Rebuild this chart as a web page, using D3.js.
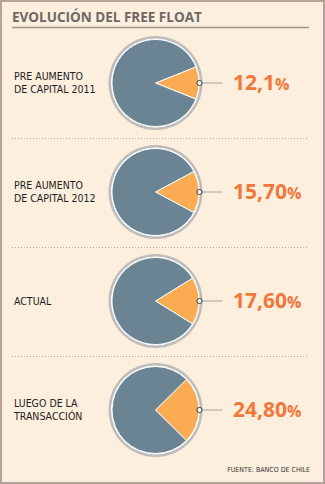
<!DOCTYPE html>
<html><head><meta charset="utf-8">
<script src="https://cdn.jsdelivr.net/npm/d3@7"></script>
<style>html,body{margin:0;padding:0;background:#fcefdd}svg{display:block}</style>
</head><body>
<script>
const categories = [["PRE AUMENTO","DE CAPITAL 2011"],["PRE AUMENTO","DE CAPITAL 2012"],["ACTUAL"],["LUEGO DE LA","TRANSACCIÓN"]];
const values = [12.1, 15.7, 17.6, 24.8];
const valueLabels = ["12,1", "15,70", "17,60", "24,80"];
const title = "EVOLUCIÓN DEL FREE FLOAT";
const source = "FUENTE: BANCO DE CHILE";

const W = 325, H = 484;
const svg = d3.select("body").append("svg").attr("width", W).attr("height", H);
svg.append("rect").attr("x",1).attr("y",1).attr("width",W-2).attr("height",H-2)
  .attr("fill","#fcefdd").attr("stroke","#b6a298").attr("stroke-width",2);

svg.append("text").attr("x",12).attr("y",22).text(title)
  .attr("font-family","'Open Sans', sans-serif").attr("font-weight","bold")
  .attr("font-size",13.5).attr("fill","#6d6864");
svg.append("line").attr("x1",12).attr("x2",309).attr("y1",27.5).attr("y2",27.5)
  .attr("stroke","#9c948c").attr("stroke-width",1.5);

const y = d3.scalePoint().domain(d3.range(values.length)).range([83, 410]);
const cx = 155.5;
const arc = d3.arc().innerRadius(0).outerRadius(43.5);

values.forEach((v, i) => {
  const g = svg.append("g").attr("transform", `translate(${cx},${y(i)})`);
  g.append("circle").attr("r",47).attr("fill","#bfbdbb");
  g.append("circle").attr("r",44.5).attr("fill","#ffffff");
  const half = v/100*Math.PI;
  const p = d3.pie().sort(null).value(d => d)
     .startAngle(Math.PI/2 - half).endAngle(Math.PI/2 - half + 2*Math.PI)([v, 100 - v]);
  g.selectAll("path").data(p).join("path").attr("d", arc)
    .attr("fill", (d,j) => j === 0 ? "#fbab52" : "#6a8494")
    .attr("stroke","#ffffff").attr("stroke-width",1);
  g.append("line").attr("x1",46).attr("x2",67).attr("y1",0).attr("y2",0)
    .attr("stroke","#a8a4a0").attr("stroke-width",1);
  g.append("circle").attr("cx",44).attr("cy",0).attr("r",2.6)
    .attr("fill","#fff").attr("stroke","#333").attr("stroke-width",1);

  const t = svg.append("text").attr("x",233).attr("y",y(i)+7)
    .attr("font-family","'Open Sans', sans-serif").attr("font-weight","bold")
    .attr("fill","#f2773a");
  t.append("tspan").attr("font-size",21).text(valueLabels[i]);
  t.append("tspan").attr("font-size",16).text("%");

  const lines = categories[i];
  const lt = svg.append("text").attr("font-family","'DejaVu Sans Condensed', sans-serif")
    .attr("font-size",10.5).attr("fill","#1e1e1e");
  lines.forEach((l, k) => {
    lt.append("tspan").attr("x",14)
      .attr("y", y(i) + (lines.length === 1 ? 4 : -3 + k*12.5)).text(l);
  });

  if (i < values.length - 1) {
    const sy = Math.round((y(i)+y(i+1))/2) + 0.5;
    svg.append("line").attr("x1",12).attr("x2",309)
      .attr("y1", sy).attr("y2", sy)
      .attr("stroke","#b0aaa4").attr("stroke-width",1).attr("stroke-dasharray","1,2");
  }
});

svg.append("text").attr("x",310).attr("y",472).attr("text-anchor","end").text(source)
  .attr("font-family","'DejaVu Sans Condensed', sans-serif").attr("font-size",7)
  .attr("fill","#333");
</script>
</body></html>
